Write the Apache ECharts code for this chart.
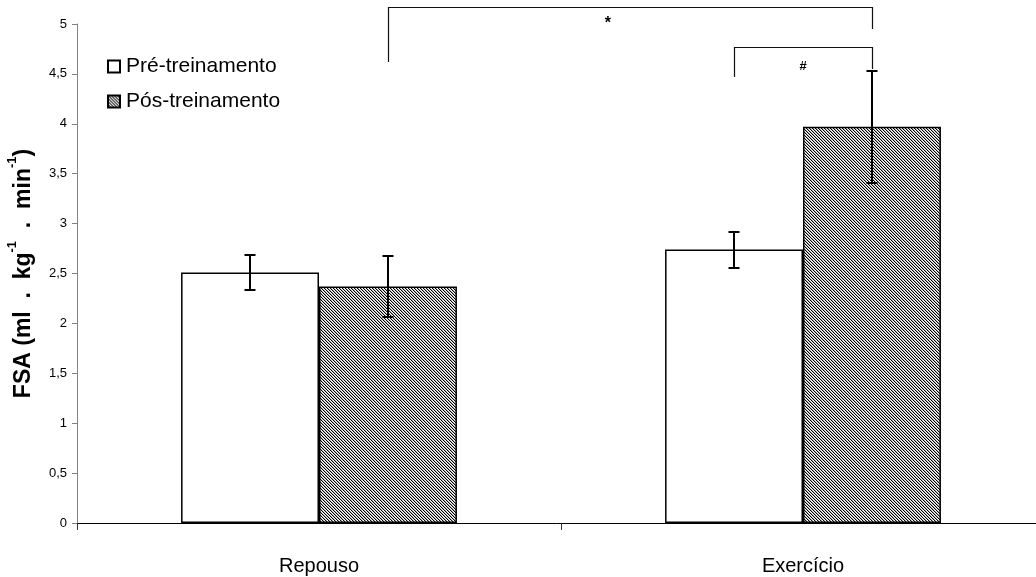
<!DOCTYPE html>
<html>
<head>
<meta charset="utf-8">
<script src="https://cdn.jsdelivr.net/npm/echarts@6/dist/echarts.min.js"></script>
<style>html,body{margin:0;padding:0;background:#fff}#c{width:1036px;height:577px}</style>
</head>
<body>
<div id="c"></div>
<script>
const categories = ['Repouso', 'Exercício'];
const seriesNames = ['Pré-treinamento', 'Pós-treinamento'];
const preValues = [2.51, 2.74];
const postValues = [2.37, 3.97];
const preErrors = [0.18, 0.18];
const postErrors = [0.305, 0.56];
const yTicks = [0, 0.5, 1, 1.5, 2, 2.5, 3, 3.5, 4, 4.5, 5];
const yTickLabels = ['0', '0,5', '1', '1,5', '2', '2,5', '3', '3,5', '4', '4,5', '5'];
// significance brackets
const bracketFrom = [[0, 1], [1, 0]];   // [category, series] of left leg
const bracketTo = [[1, 1], [1, 1]];     // [category, series] of right leg
const bracketTop = [5.17, 4.77];
const bracketLeftEnd = [4.62, 4.47];
const bracketRightEnd = [4.95, 4.55];
const bracketLabels = ['*', '#'];
const bracketLabelPos = [0.597, 1.0];   // position along category axis (in category units)
const bracketLabelValue = [5.0, 4.57];

const BAR_FRAC = 0.285;
const FONT = '"Liberation Sans Narrow", "Arial Narrow", "Liberation Sans", Arial, sans-serif';

function makeHatch() {
  const n = 3;
  const c = document.createElement('canvas');
  c.width = n; c.height = n;
  const g = c.getContext('2d');
  g.fillStyle = '#fff'; g.fillRect(0, 0, n, n);
  for (let i = 0; i < n; i++) {
    g.fillStyle = '#000';
    g.fillRect(i, i, 1, 1);
    g.fillStyle = '#b0b0b0';
    g.fillRect((i + 1) % n, i, 1, 1);
  }
  return c;
}
const hatch = { image: makeHatch(), repeat: 'repeat' };

function catX(api, pos) {
  const c0 = api.coord([0, 0])[0];
  const c1 = api.coord([1, 0])[0];
  return c0 + pos * (c1 - c0);
}
function barX(api, cat, s) {
  const band = api.size([1, 0])[0];
  return catX(api, cat) + (s === 0 ? -1 : 1) * band * BAR_FRAC / 2;
}

const errData = [];
for (let i = 0; i < categories.length; i++) {
  errData.push([i, preValues[i], preErrors[i], 0]);
  errData.push([i, postValues[i], postErrors[i], 1]);
}

const chart = echarts.init(document.getElementById('c'), null, { renderer: 'canvas' });
chart.setOption({
  animation: false,
  backgroundColor: '#fff',
  grid: { left: 77, top: 24, bottom: 54, right: -9, outerBoundsMode: 'none', containLabel: false },
  legend: {
    data: seriesNames,
    orient: 'vertical',
    left: 102, top: 51,
    itemWidth: 12, itemHeight: 12, itemGap: 14,
    icon: 'rect',
    textStyle: { fontFamily: FONT, fontSize: 21, color: '#000', padding: [0, 0, 0, 1] }
  },
  xAxis: {
    type: 'category',
    data: categories,
    axisLine: { lineStyle: { color: '#000', width: 1 } },
    axisTick: { show: true, length: 7, lineStyle: { color: '#333' } },
    axisLabel: { fontFamily: FONT, fontSize: 20, color: '#000', margin: 33 },
    splitLine: { show: false }
  },
  yAxis: {
    type: 'value',
    min: 0, max: 5, interval: 0.5,
    axisLine: { show: true, lineStyle: { color: '#808080' } },
    axisTick: { show: true, length: 5, lineStyle: { color: '#808080' } },
    splitLine: { show: false },
    axisLabel: {
      fontFamily: FONT, fontSize: 13, color: '#000', margin: 10,
      formatter: v => { const k = yTicks.findIndex(t => Math.abs(t - v) < 1e-9); return k >= 0 ? yTickLabels[k] : ''; }
    },
    name: '{b|FSA (ml  .  kg}{s|-1}{b|  .  min}{s|-1}{b|)}',
    nameLocation: 'middle',
    nameRotate: 90,
    nameGap: 42,
    nameTextStyle: {
      rich: {
        b: { fontFamily: '"Liberation Sans", Arial, sans-serif', fontWeight: 'bold', fontSize: 23, color: '#000', verticalAlign: 'bottom', lineHeight: 29 },
        s: { fontFamily: '"Liberation Sans", Arial, sans-serif', fontWeight: 'bold', fontSize: 13, color: '#000', verticalAlign: 'top', lineHeight: 29 }
      }
    }
  },
  series: [
    {
      name: seriesNames[0], type: 'bar', data: preValues,
      barWidth: (BAR_FRAC * 100) + '%', barGap: '0%',
      itemStyle: { color: '#fff', borderColor: '#000', borderWidth: 1.5 }
    },
    {
      name: seriesNames[1], type: 'bar', data: postValues,
      barWidth: (BAR_FRAC * 100) + '%', barGap: '0%',
      itemStyle: { color: hatch, borderColor: '#000', borderWidth: 1.5 }
    },
    {
      type: 'custom', silent: true, z: 5,
      data: errData,
      encode: { x: 0, y: 1 },
      renderItem: function (params, api) {
        const cat = api.value(0), v = api.value(1), e = api.value(2), s = api.value(3);
        const x = Math.round(barX(api, cat, s));
        const yTop = Math.round(api.coord([cat, v + e])[1]);
        const yBot = Math.round(api.coord([cat, v - e])[1]);
        const w = 5.5;
        const st = { stroke: '#000', lineWidth: 2 };
        return { type: 'group', children: [
          { type: 'line', shape: { x1: x, y1: yTop, x2: x, y2: yBot }, style: st },
          { type: 'line', shape: { x1: x - w, y1: yTop, x2: x + w, y2: yTop }, style: st },
          { type: 'line', shape: { x1: x - w, y1: yBot, x2: x + w, y2: yBot }, style: st }
        ] };
      }
    },
    {
      type: 'custom', silent: true, z: 6, clip: false,
      data: bracketLabels.map((l, i) => [i, 0]),
      encode: { x: 0, y: 1 },
      renderItem: function (params, api) {
        const i = params.dataIndex;
        const xl = Math.round(barX(api, bracketFrom[i][0], bracketFrom[i][1])) + 0.5;
        const xr = Math.round(barX(api, bracketTo[i][0], bracketTo[i][1])) + 0.5;
        const yt = Math.round(api.coord([0, bracketTop[i]])[1]) + 0.5;
        const yl = api.coord([0, bracketLeftEnd[i]])[1];
        const yr = api.coord([0, bracketRightEnd[i]])[1];
        const lx = catX(api, bracketLabelPos[i]);
        const ly = api.coord([0, bracketLabelValue[i]])[1];
        return { type: 'group', children: [
          { type: 'polyline', shape: { points: [[xl, yl], [xl, yt], [xr, yt], [xr, yr]] }, style: { stroke: '#111', lineWidth: 1.2, fill: null } },
          { type: 'text', x: lx, y: ly, style: { text: bracketLabels[i], fontFamily: '"Liberation Sans", Arial, sans-serif', fontWeight: 'bold', fontSize: i === 0 ? 16 : 13, fill: '#000', align: 'center', verticalAlign: 'middle' } }
        ] };
      }
    }
  ]
});
</script>
</body>
</html>
